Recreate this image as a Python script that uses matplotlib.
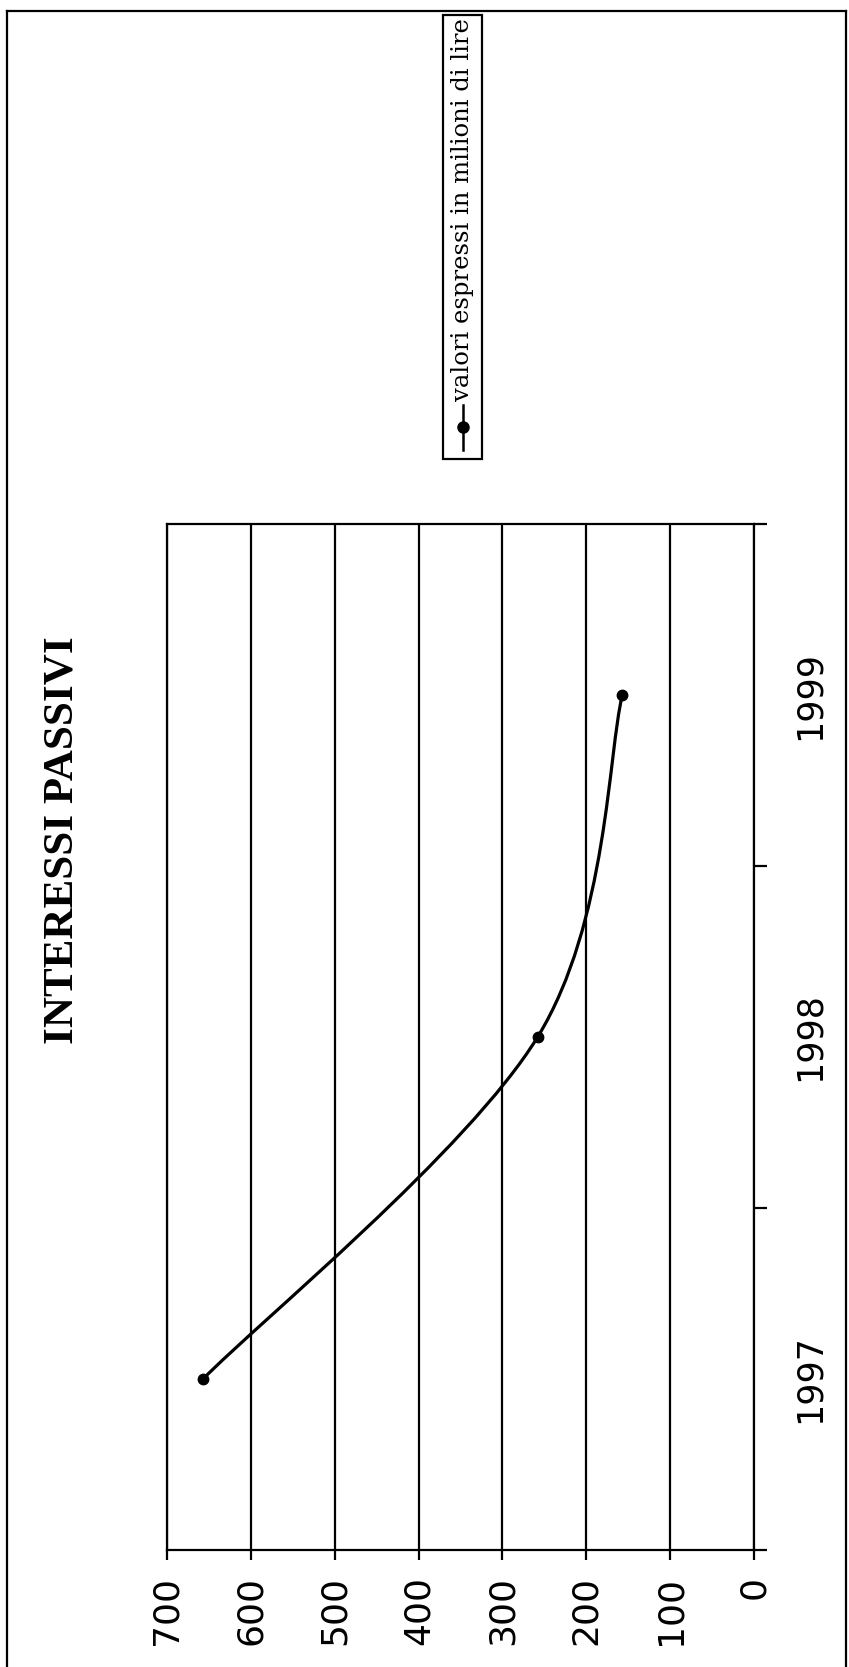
import matplotlib
matplotlib.use("Agg")
import matplotlib.pyplot as plt
from matplotlib.path import Path
from matplotlib.patches import PathPatch, Rectangle
from matplotlib.lines import Line2D

# dati
anni = ["1997", "1998", "1999"]
valori = [657, 258, 157]
tacche_valori = [0, 100, 200, 300, 400, 500, 600, 700]
titolo = "INTERESSI PASSIVI"
legenda = "valori espressi in milioni di lire"

W, H = 849, 1667
fig = plt.figure(figsize=(W / 100, H / 100), dpi=100)
fig.patch.set_facecolor("white")


def fx(px):
    return px / W


def fy(py):
    return 1 - py / H


# area del grafico (ruotata di 90 gradi)
left, right, top, bottom = 167, 754, 524, 1550
ax = fig.add_axes([fx(left), fy(bottom), fx(right - left), (bottom - top) / H])
ax.set_xlim(700, 0)
ax.set_ylim(-0.5, len(anni) - 0.5)

for s in ax.spines.values():
    s.set_color("black")
    s.set_linewidth(1.6)

ax.set_xticks(tacche_valori)
ax.grid(axis="x", color="black", linewidth=1.6)
ax.tick_params(axis="x", direction="out", length=7.5, width=1.6, pad=11,
               labelsize=26, labelrotation=90)

pos = list(range(len(anni)))
ax.set_yticks([p - 0.5 for p in pos] + [pos[-1] + 0.5])
ax.set_yticklabels([])
ax.set_yticks(pos, labels=anni, minor=True)
ax.yaxis.tick_right()
ax.tick_params(axis="y", which="major", direction="out", length=9, width=1.6,
               left=False, right=True)
ax.tick_params(axis="y", which="minor", length=0, pad=28, labelsize=25,
               labelrotation=90, left=False, right=True,
               labelleft=False, labelright=True)
for lbl in ax.get_yticklabels(minor=True):
    lbl.set_va("center")

# linea smussata (bezier tipo Excel)
pts = list(zip(valori, pos))
verts = [pts[0]]
codes = [Path.MOVETO]
n = len(pts)
for i in range(n - 1):
    p_prev = pts[i - 1] if i > 0 else pts[i]
    p0 = pts[i]
    p1 = pts[i + 1]
    p_next = pts[i + 2] if i + 2 < n else pts[i + 1]
    c1 = (p0[0] + (p1[0] - p_prev[0]) / 6, p0[1] + (p1[1] - p_prev[1]) / 6)
    c2 = (p1[0] - (p_next[0] - p0[0]) / 6, p1[1] - (p_next[1] - p0[1]) / 6)
    verts += [c1, c2, p1]
    codes += [Path.CURVE4] * 3
ax.add_patch(PathPatch(Path(verts, codes), facecolor="none",
                       edgecolor="black", linewidth=2.3))
ax.plot(valori, pos, "o", color="black", markersize=7.5, linestyle="none")

# titolo
fig.text(fx(63), fy(840), titolo, rotation=90, ha="center", va="center",
         family="Liberation Serif", weight="bold", fontsize=31)

# legenda
fig.add_artist(Rectangle((fx(443), fy(459)), fx(39), (459 - 15) / H,
                         transform=fig.transFigure, facecolor="white",
                         edgecolor="black", linewidth=1.6))
fig.add_artist(Line2D([fx(463)] * 3, [fy(450), fy(427), fy(405)],
                      transform=fig.transFigure, color="black", linewidth=1.8,
                      marker="o", markersize=8, markevery=[1]))
fig.text(fx(462), fy(401), legenda, rotation=90, ha="center", va="bottom",
         family="DejaVu Serif", fontsize=17.5)

# cornice della pagina
for xs, ys in [([7, 7], [11, H]), ([7, 846], [11, 11]), ([846, 846], [11, H])]:
    fig.add_artist(Line2D([fx(x) for x in xs], [fy(y) for y in ys],
                          transform=fig.transFigure, color="black",
                          linewidth=1.6))

fig.savefig("out.png", dpi=100)
